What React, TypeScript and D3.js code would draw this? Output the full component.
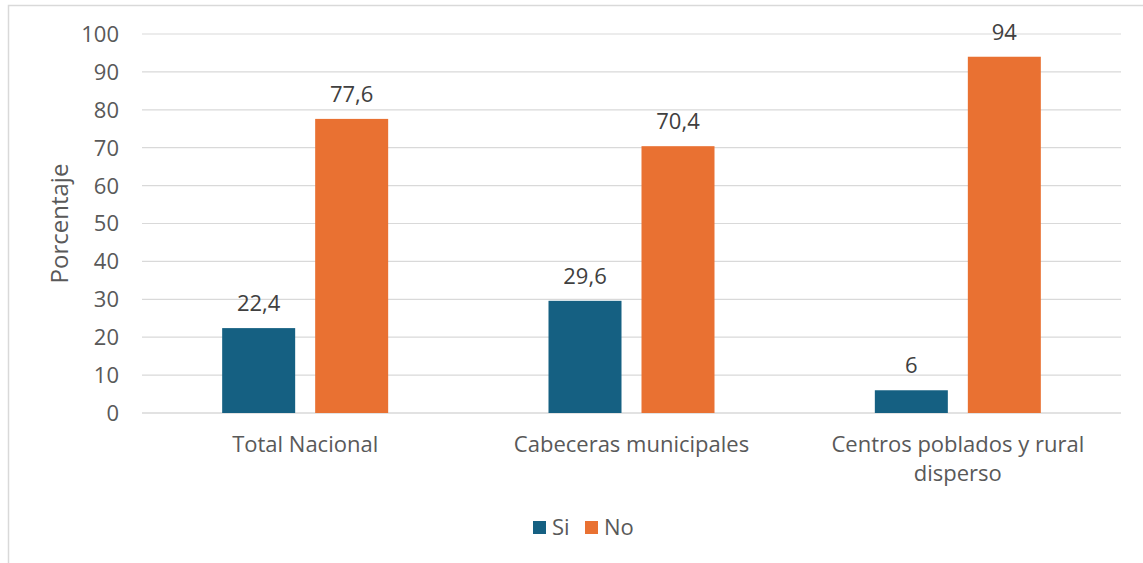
import React from "react";
import * as d3 from "d3";

const categories = ["Total Nacional", "Cabeceras municipales", "Centros poblados y rural disperso"];
const categoryLines = [["Total Nacional"], ["Cabeceras municipales"], ["Centros poblados y rural", "disperso"]];
const seriesNames = ["Si", "No"];
const siValues = [22.4, 29.6, 6];
const noValues = [77.6, 70.4, 94];
const yTicks = [0, 10, 20, 30, 40, 50, 60, 70, 80, 90, 100];
const colors = ["#156082", "#E97132"];

const W = 1143;
const H = 563;
const FONT = "'Open Sans', sans-serif";

export default function App() {
  const left = 142, right = 1121, top = 34, bottom = 413;
  const x = d3.scaleBand<string>().domain(categories).range([left, right]).padding(0);
  const y = d3.scaleLinear().domain([0, 100]).range([bottom, top]);
  const barW = 73, gap = 20;
  const series = [siValues, noValues];
  const fmt = (v: number) => String(v).replace(".", ",");
  return (
    <svg width={W} height={H} style={{ position: "absolute", left: 0, top: 0, background: "#fff" }} fontFamily={FONT}>
      <rect x={8.5} y={5.5} width={W + 20} height={H + 20} fill="#fff" stroke="#d9d9d9" strokeWidth={1.5} />
      {yTicks.map((t) => (
        <g key={t}>
          <line x1={left} x2={right} y1={y(t)} y2={y(t)} stroke="#d9d9d9" strokeWidth={t === 0 ? 1.5 : 1.2} />
          <text x={119} y={y(t)} dy="0.36em" textAnchor="end" fontSize={22} fill="#595959">{t}</text>
        </g>
      ))}
      <text transform={`translate(68,${(top + bottom) / 2}) rotate(-90)`} textAnchor="middle" fontSize={24} fill="#595959">Porcentaje</text>
      {categories.map((c, i) => {
        const cx = (x(c) as number) + x.bandwidth() / 2;
        const groupW = barW * 2 + gap;
        return (
          <g key={c}>
            {series.map((vals, s) => {
              const bx = cx - groupW / 2 + s * (barW + gap);
              return (
                <g key={s}>
                  <rect x={bx} y={y(vals[i])} width={barW} height={bottom - y(vals[i])} fill={colors[s]} />
                  <text x={bx + barW / 2} y={y(vals[i]) - 17} textAnchor="middle" fontSize={22} fill="#404040">{fmt(vals[i])}</text>
                </g>
              );
            })}
            {categoryLines[i].map((ln, k) => (
              <text key={k} x={cx} y={452 + k * 29} textAnchor="middle" fontSize={22} fill="#595959">{ln}</text>
            ))}
          </g>
        );
      })}
      {seriesNames.map((n, s) => {
        const lx = s === 0 ? 533 : 585;
        return (
          <g key={n}>
            <rect x={lx} y={521} width={13} height={13} fill={colors[s]} />
            <text x={lx + 19} y={535} fontSize={22} fill="#595959">{n}</text>
          </g>
        );
      })}
    </svg>
  );
}
